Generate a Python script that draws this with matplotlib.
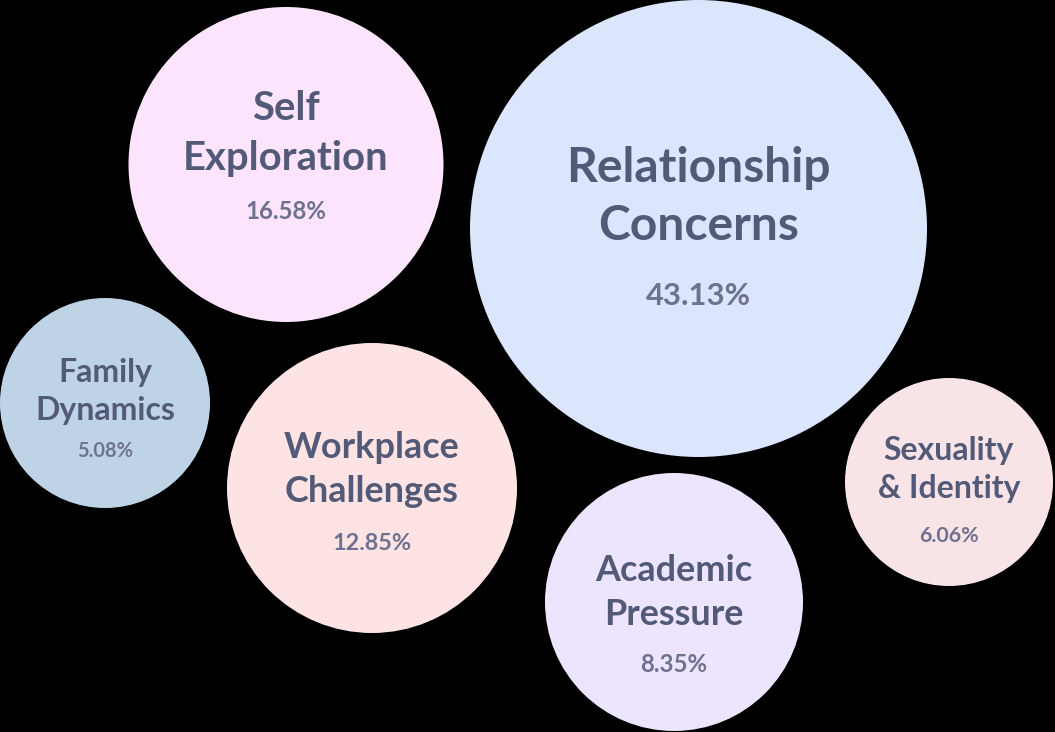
import matplotlib
matplotlib.use("Agg")
from matplotlib import pyplot as plt
from matplotlib.patches import Circle

# data
topics = ["Relationship\nConcerns", "Self\nExploration", "Family\nDynamics",
          "Workplace\nChallenges", "Academic\nPressure", "Sexuality\n& Identity"]
shares = [43.13, 16.58, 5.08, 12.85, 8.35, 6.06]

# layout in pixels: centre x, centre y, radius
centers_x = [698.5, 286, 105, 372, 674, 949]
centers_y = [228.5, 164.5, 403, 488, 602, 482]
radii = [228.5, 157.5, 105, 145, 129, 104]
fills = ["#dbe5fc", "#fce4fc", "#bed3e6", "#fde3e3", "#ece5fd", "#f8e3e6"]
# label size / percent size in px, baselines (line1, line2, pct) relative to centre
label_px = [48, 40, 32, 36, 36, 32]
pct_px = [31, 24, 20, 23.5, 24, 21.4]
baselines = [(-46.5, 11.5, 76.5), (-44.5, 5.5, 54.5), (-21.3, 17, 53.7),
             (-30, 14, 62), (-21, 23, 70), (-22, 15.7, 59.7)]

label_color = "#535a78"
pct_color = "#6e7290"
px2pt = 72 / 100

fig = plt.figure(figsize=(10.55, 7.32), dpi=100, facecolor="black")
ax = fig.add_axes([0, 0, 1, 1])
ax.set_facecolor("black")
ax.set_xlim(0, 1055)
ax.set_ylim(732, 0)
ax.set_aspect("equal")
ax.axis("off")

for i in range(len(topics)):
    cx, cy, r = centers_x[i], centers_y[i], radii[i]
    ax.add_patch(Circle((cx, cy), r, facecolor=fills[i], edgecolor="none"))
    l1, l2 = topics[i].split("\n")
    b1, b2, b3 = baselines[i]
    for txt, b in [(l1, b1), (l2, b2)]:
        ax.text(cx, cy + b, txt, ha="center", va="baseline", family="Lato",
                fontweight="bold", fontsize=label_px[i] * px2pt, color=label_color)
    ax.text(cx, cy + b3, f"{shares[i]:.2f}%", ha="center", va="baseline", family="Lato",
            fontweight="bold", fontsize=pct_px[i] * px2pt, color=pct_color)

fig.savefig("out.png", dpi=100, facecolor="black")
